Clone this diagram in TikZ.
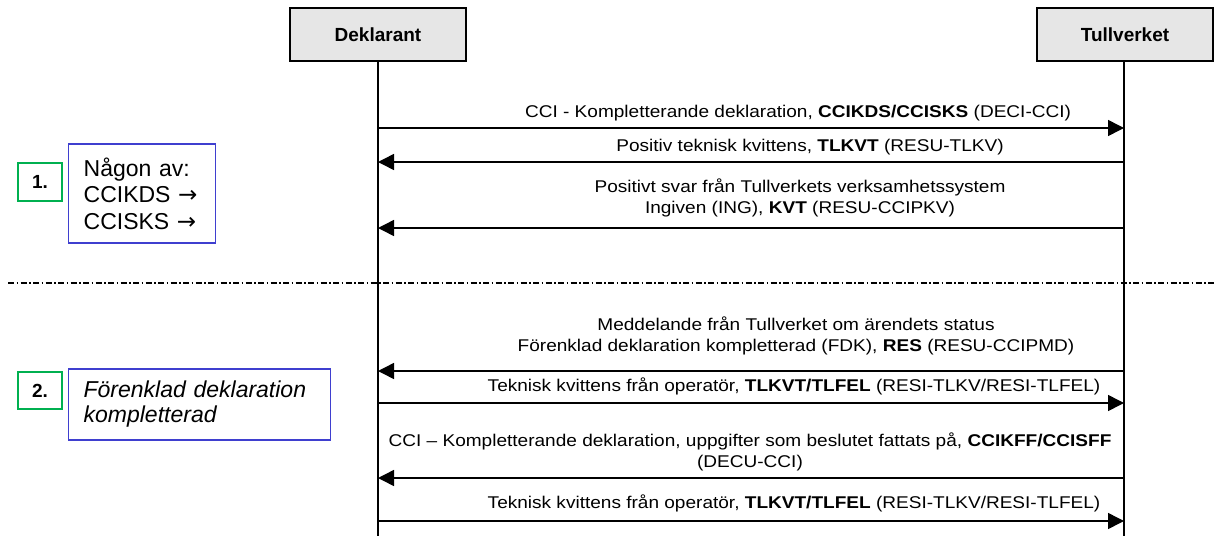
\documentclass[tikz,border=0pt]{standalone}
\usepackage{fontspec}
\setmainfont{Liberation Sans}
\newfontfamily\msgfont[FakeStretch=1.12]{Liberation Sans}
\newfontfamily\symfont{DejaVu Sans}
\usetikzlibrary{arrows.meta}
\definecolor{boxgray}{HTML}{E6E6E6}
\definecolor{stepgreen}{HTML}{00B050}
\definecolor{noteblue}{HTML}{3F3FCF}
\tikzset{
  actor/.style={draw=black, line width=2.4pt, fill=boxgray, minimum width=176pt, minimum height=53pt, inner sep=0pt, font=\fontsize{19}{22}\selectfont\bfseries},
  lifeline/.style={line width=1.3pt},
  msg/.style={line width=1.5pt, -{Triangle[length=16pt,width=16pt]}},
  msglabel/.style={inner sep=0pt, align=center, font=\msgfont\fontsize{17}{21}\selectfont},
  stepbox/.style={draw=stepgreen, line width=2pt, minimum width=44pt, minimum height=38pt, inner sep=0pt, font=\fontsize{19}{22}\selectfont\bfseries},
  notebox/.style={draw=noteblue, line width=1.3pt, inner xsep=15pt, inner ysep=0pt, anchor=west, align=left, font=\fontsize{23}{26.5}\selectfont},
  sepline/.style={line width=1.2pt, dash pattern=on 6pt off 2.5pt on 1.5pt off 2.5pt}
}
\begin{document}
\begin{tikzpicture}[x=1pt,y=-1pt]
\useasboundingbox (0,0) rectangle (1215,536);
% actors
\node[actor] (dek) at (378,34.5) {Deklarant};
\node[actor] (tull) at (1125,34.5) {Tullverket};
\coordinate (dekEnd) at (378,536);
\coordinate (tullEnd) at (1124,536);
\draw[lifeline] (dek.south) -- (dekEnd);
\draw[lifeline] (tull.south -| tullEnd) -- (tullEnd);
% message coordinates
\foreach \n/\y in {1/128,2/162,3/228,4/371,5/403,6/478,7/521}{
  \coordinate (d\n) at (378,\y);
  \coordinate (t\n) at (1124,\y);
}
% messages
\node[msglabel] (l1) at (798,113) {CCI - Kompletterande deklaration, \textbf{CCIKDS/CCISKS} (DECI-CCI)};
\draw[msg] (d1) -- (t1);
\node[msglabel] (l2) at (810,147) {Positiv teknisk kvittens, \textbf{TLKVT} (RESU-TLKV)};
\draw[msg] (t2) -- (d2);
\node[msglabel] (l3) at (800,197.5) {Positivt svar från Tullverkets verksamhetssystem\\Ingiven (ING), \textbf{KVT} (RESU-CCIPKV)};
\draw[msg] (t3) -- (d3);
% separator
\coordinate (sepL) at (8,283);
\coordinate (sepR) at (1215,283);
\draw[sepline] (sepL) -- (sepR);
\node[msglabel] (l4) at (796,335.5) {Meddelande från Tullverket om ärendets status\\Förenklad deklaration kompletterad (FDK), \textbf{RES} (RESU-CCIPMD)};
\draw[msg] (t4) -- (d4);
\node[msglabel] (l5) at (794,386) {Teknisk kvittens från operatör, \textbf{TLKVT/TLFEL} (RESI-TLKV/RESI-TLFEL)};
\draw[msg] (d5) -- (t5);
\node[msglabel] (l6) at (750,452) {CCI – Kompletterande deklaration, uppgifter som beslutet fattats på, \textbf{CCIKFF/CCISFF}\\(DECU-CCI)};
\draw[msg] (t6) -- (d6);
\node[msglabel] (l7) at (794,503) {Teknisk kvittens från operatör, \textbf{TLKVT/TLFEL} (RESI-TLKV/RESI-TLFEL)};
\draw[msg] (d7) -- (t7);
% left notes
\node[stepbox] (s1) at (40,181.5) {1.};
\node[notebox, text width=117pt, minimum height=99pt] (n1) at (68,193.5) {Någon av:\\CCIKDS {\symfont →}\\CCISKS {\symfont →}};
\node[stepbox, minimum height=37pt] (s2) at (40,390.5) {2.};
\node[notebox, text width=232pt, minimum height=71pt, font=\fontsize{23}{25}\selectfont\itshape] (n2) at (68,404.5) {Förenklad deklaration\\kompletterad};
\end{tikzpicture}
\end{document}
